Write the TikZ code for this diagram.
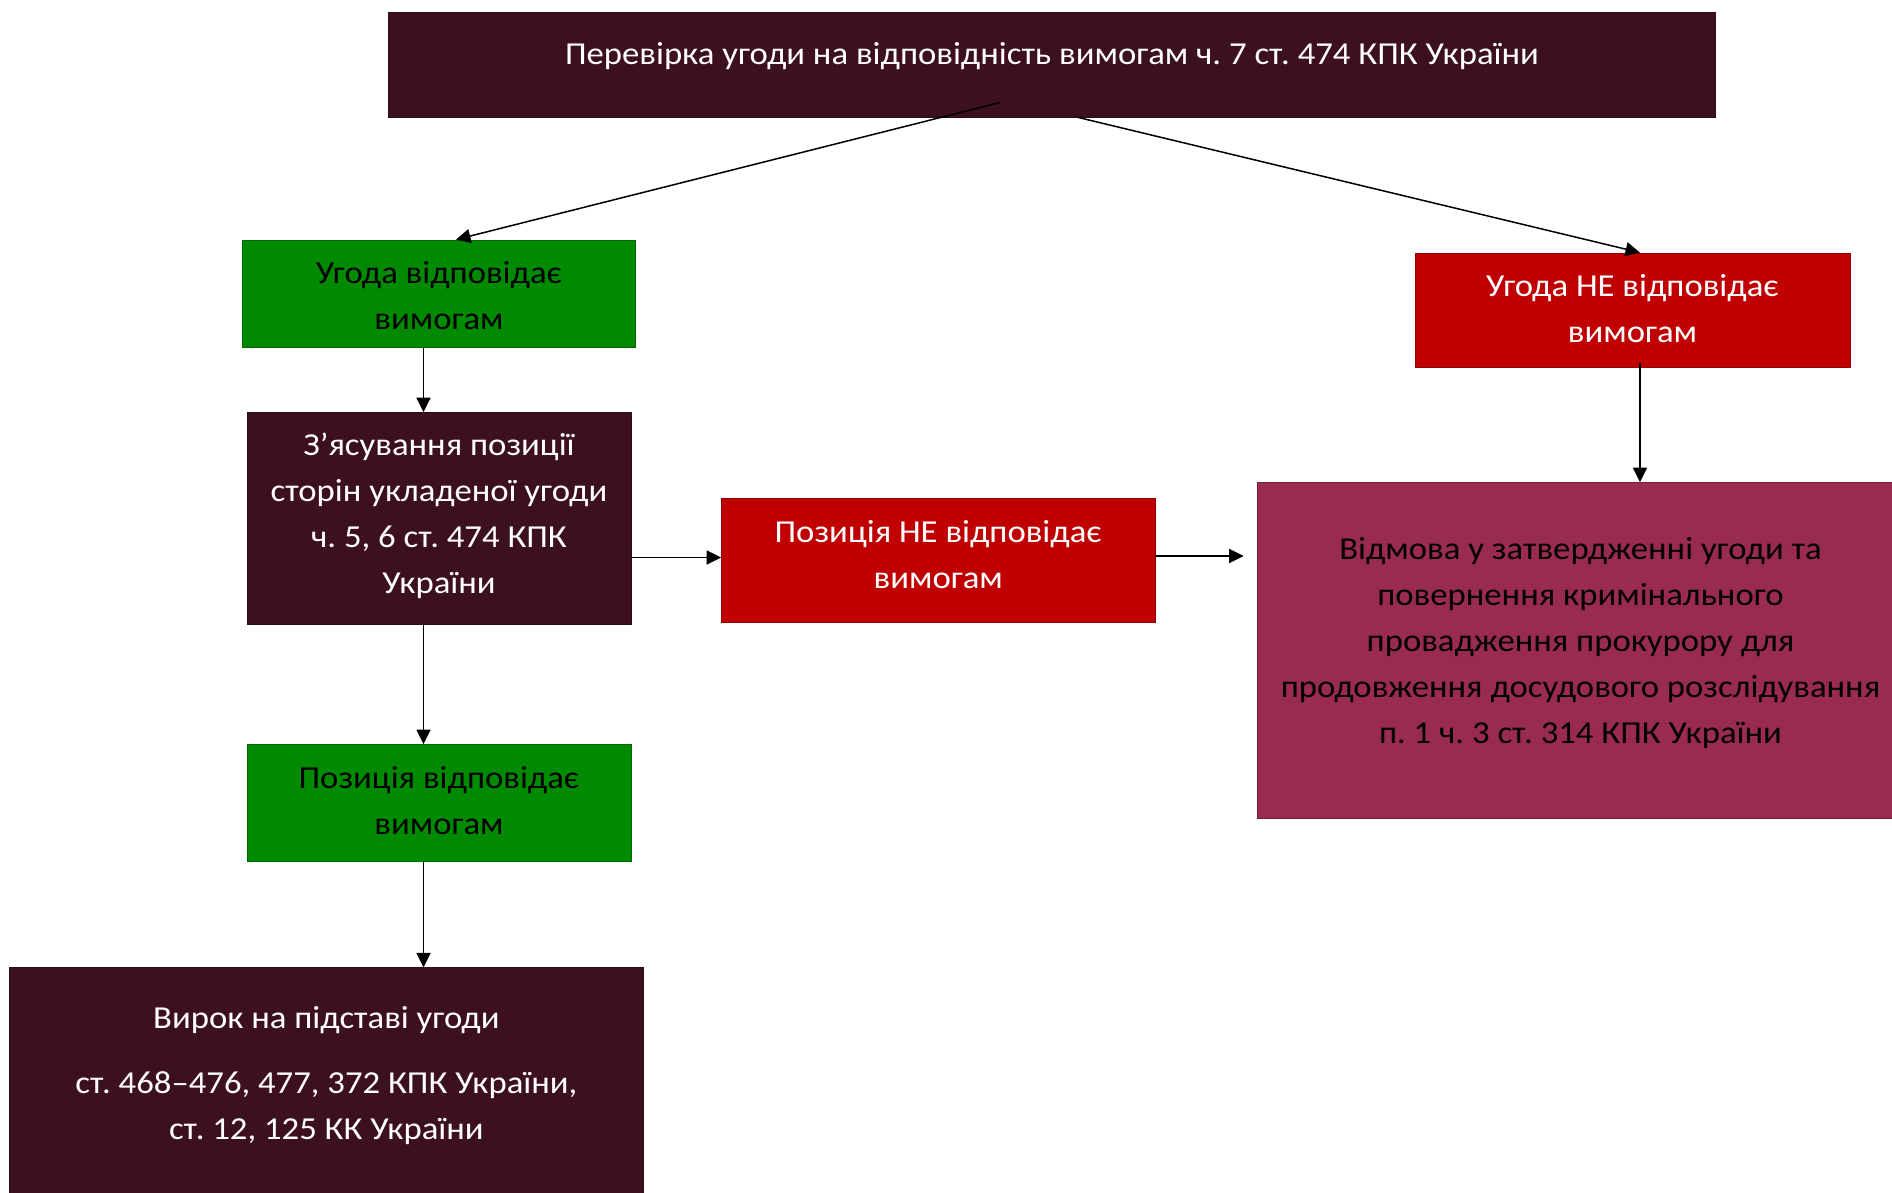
\documentclass[tikz,border=0pt]{standalone}
\usepackage{fontspec}
\setmainfont[FakeStretch=1.085]{Carlito}
\usetikzlibrary{arrows.meta}
\definecolor{darkm}{HTML}{3C101F}
\definecolor{grn}{HTML}{008A00}
\definecolor{redb}{HTML}{C00000}
\definecolor{purp}{HTML}{992B52}
\frenchspacing
\begin{document}
\begin{tikzpicture}[x=1pt,y=-1pt,
  box/.style={rectangle, fill=#1, draw=#1!75!black, line width=0.8pt, inner sep=0pt},
  txt/.style={align=center, inner sep=0pt, font=\fontsize{32}{46}\selectfont},
  wt/.style={txt, text=white},
  bt/.style={txt, text=black},
  arr/.style={-{Triangle[length=14.5pt,width=14pt]}, line width=1.5pt, black}]
\useasboundingbox (0,0) rectangle (1892,1193);
% boxes
\node[box=darkm, minimum width=1327.3pt, minimum height=105pt] (top) at (1052,64.5) {};
\node[box=grn, minimum width=393.5pt, minimum height=107.5pt] (g1) at (439,293.75) {};
\node[box=redb, minimum width=435pt, minimum height=114pt] (r1) at (1632.5,310) {};
\node[box=darkm, minimum width=384pt, minimum height=211.4pt] (d2) at (439,518.3) {};
\node[box=redb, minimum width=433.5pt, minimum height=124.6pt] (r2) at (938.25,560.3) {};
\node[box=purp, minimum width=647pt, minimum height=335.4pt] (p) at (1580.5,650.3) {};
\node[box=grn, minimum width=384pt, minimum height=117pt] (g2) at (439,803) {};
\node[box=darkm, minimum width=633.3pt, minimum height=240pt] (b) at (326.35,1087.85) {};
% texts
\node[wt] (topT) at (1052,55) {\strut Перевірка угоди на відповідність вимогам ч. 7 ст. 474 КПК України};
\node[bt] (g1T) at (439,297.5) {\strut Угода відповідає\\\strut вимогам};
\node[wt] (r1T) at (1632.5,310.5) {\strut Угода НЕ відповідає\\\strut вимогам};
\node[wt] (d2T) at (439,515.5) {\strut З’ясування позиції\\\strut сторін укладеної угоди\\\strut ч. 5, 6 ст. 474 КПК\\\strut України};
\node[wt] (r2T) at (938.25,556.5) {\strut Позиція НЕ відповідає\\\strut вимогам};
\node[bt] (pT) at (1580.5,642.5) {\strut Відмова у затвердженні угоди та\\\strut повернення кримінального\\\strut провадження прокурору для\\\strut продовження досудового розслідування\\\strut п. 1 ч. 3 ст. 314 КПК України};
\node[bt] (g2T) at (439,802.5) {\strut Позиція відповідає\\\strut вимогам};
\node[wt] (bT) at (326.35,1074.5) {\strut Вирок на підставі угоди\\[19pt]\strut ст. 468–476, 477, 372 КПК України,\\\strut ст. 12, 125 КК України};
% connector points
\coordinate (a1s) at ([xshift=-52pt,yshift=-38pt]top.center);
\coordinate (a1e) at ([xshift=17pt]g1.north);
\coordinate (a2s) at ([xshift=26pt]top.south);
\coordinate (a2e) at ([xshift=7.5pt]r1.north);
\coordinate (g1b) at ([xshift=-15.5pt]g1.south);
\coordinate (r1b) at ([xshift=7.5pt,yshift=4pt]r1.south);
\coordinate (d2b) at ([xshift=-15.5pt]d2.south);
\coordinate (g2b) at ([xshift=-15.5pt]g2.south);
\coordinate (d2r) at ([yshift=-39.2pt]d2.east);
\coordinate (r2r) at ([yshift=4.3pt]r2.east);
\coordinate (pin) at ([xshift=-13pt]p.west);
% connectors
\draw[arr] (a1s) -- (a1e);
\draw[arr] (a2s) -- (a2e);
\draw[arr] (g1b) -- (g1b |- d2.north);
\draw[arr] (r1b) -- (r1b |- p.north);
\draw[arr] (d2b) -- (d2b |- g2.north);
\draw[arr] (g2b) -- (g2b |- b.north);
\draw[arr] (d2r) -- (d2r -| r2.west);
\draw[arr] (r2r) -- (r2r -| pin);
\end{tikzpicture}
\end{document}
